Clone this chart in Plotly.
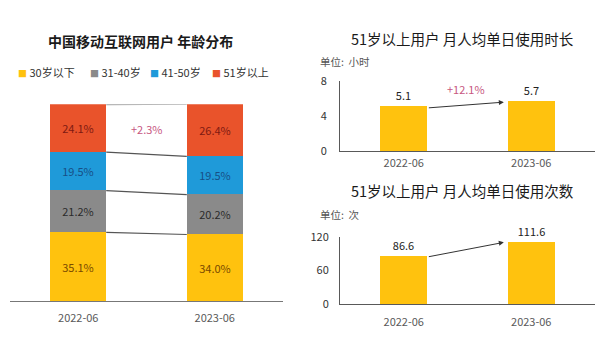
import plotly.graph_objects as go

# Age distribution of China's mobile internet users (share, %)
periods = ["2022-06", "2023-06"]
age_groups = ["30岁以下", "31-40岁", "41-50岁", "51岁以上"]
age_share = {
    "30岁以下": [35.1, 34.0],
    "31-40岁": [21.2, 20.2],
    "41-50岁": [19.5, 19.5],
    "51岁以上": [24.1, 26.4],
}
age_change_label = "+2.3%"

# 51+ users: monthly average daily usage time (hours)
hours = [5.1, 5.7]
hours_change_label = "+12.1%"
hours_ticks = [0, 4, 8]

# 51+ users: monthly average daily usage count (times)
counts = [86.6, 111.6]
counts_change_label = "+28.9%"
counts_ticks = [0, 60, 120]

FONT = "Noto Sans CJK SC"
bar_colors = {"30岁以下": "#FFC20E", "31-40岁": "#8A8A8A", "41-50岁": "#1F9AD9", "51岁以上": "#E9532B"}
text_colors = {"30岁以下": "#7A4A00", "31-40岁": "#2B2B2B", "41-50岁": "#174F86", "51岁以上": "#7E1A12"}
AXIS = "#595959"

fig = go.Figure()

# ---- left: stacked share bars ----
xs = [0, 1]
bw = 0.41
for g in age_groups:
    fig.add_trace(go.Bar(
        x=xs, y=age_share[g], name=g, width=bw,
        marker=dict(color=bar_colors[g], line=dict(width=0)),
        text=[f"{v:.1f}%" for v in age_share[g]], textposition="inside",
        insidetextanchor="middle",
        textfont=dict(family=FONT, size=11, color=text_colors[g]),
        xaxis="x", yaxis="y", showlegend=False,
    ))

# connector lines between segment boundaries
cum = [0.0, 0.0]
for i, g in enumerate(age_groups):
    cum = [cum[0] + age_share[g][0], cum[1] + age_share[g][1]]
    color = "#A0A0A0" if i == len(age_groups) - 1 else "#555555"
    fig.add_trace(go.Scatter(
        x=[bw / 2, 1 - bw / 2], y=cum, mode="lines",
        line=dict(color=color, width=1.2), hoverinfo="skip",
        showlegend=False, xaxis="x", yaxis="y",
    ))

top_l = 100 - age_share["51岁以上"][0] / 2
top_r = 100 - age_share["51岁以上"][1] / 2
fig.add_annotation(x=0.5, y=(top_l + top_r) / 2, xref="x", yref="y",
                   text=age_change_label, showarrow=False,
                   font=dict(family=FONT, size=11, color="#C7577F"))

# ---- right: single bar panels ----
rbw = 0.37
def add_panel(vals, xa, ya):
    fig.add_trace(go.Bar(
        x=xs, y=vals, width=rbw,
        marker=dict(color="#FFC20E", line=dict(width=0)),
        text=[f"{v:g}" for v in vals], textposition="outside",
        textfont=dict(family=FONT, size=11, color="#222222"),
        cliponaxis=False, showlegend=False, xaxis=xa, yaxis=ya,
    ))

add_panel(hours, "x2", "y2")
add_panel(counts, "x3", "y3")

# growth arrows
fig.add_annotation(x=1 - rbw / 2 - 0.03, y=hours[1] * 0.985, ax=rbw / 2, ay=hours[0] * 0.97,
                   xref="x2", yref="y2", axref="x2", ayref="y2",
                   showarrow=True, arrowhead=2, arrowsize=1, arrowwidth=1, arrowcolor="#333333", text="")
fig.add_annotation(x=0.49, y=7.1, xref="x2", yref="y2", text=hours_change_label, showarrow=False,
                   font=dict(family=FONT, size=11, color="#C7577F"))
fig.add_annotation(x=1 - rbw / 2 - 0.03, y=counts[1] * 0.985, ax=rbw / 2, ay=counts[0] * 0.97,
                   xref="x3", yref="y3", axref="x3", ayref="y3",
                   showarrow=True, arrowhead=2, arrowsize=1, arrowwidth=1, arrowcolor="#333333", text="")
fig.add_annotation(x=0.49, y=127, xref="x3", yref="y3", text=counts_change_label, showarrow=False,
                   font=dict(family=FONT, size=11, color="#C7577F"))

# titles, unit labels and legend
def txt(x, y, s, size, color="#1A1A1A", anchor="center"):
    fig.add_annotation(x=x / 600, y=1 - y / 338, xref="paper", yref="paper", text=s,
                       showarrow=False, xanchor=anchor, yanchor="middle",
                       font=dict(family=FONT, size=size, color=color))

txt(140, 34, "<b>中国移动互联网用户 年龄分布</b>", 14)
txt(463, 31, "51岁以上用户 月人均单日使用时长", 14.5)
txt(463, 191, "51岁以上用户 月人均单日使用次数", 14.5)
txt(318, 55, "单位:  小时", 10.5, "#555555", "left")
txt(318, 216, "单位:  次", 10.5, "#555555", "left")

legend_x = [16, 88, 148, 210]
for g, lx in zip(age_groups, legend_x):
    txt(lx, 66, f"<span style='color:{bar_colors[g]};font-size:9px'>■</span> {g}", 11, "#333333", "left")

# site watermark
txt(598, 332, "@欢视资讯", 9, "rgba(255,255,255,0.85)", "right")

ax_common = dict(showgrid=False, zeroline=False, fixedrange=True)
xfont = dict(family=FONT, size=11, color=AXIS)
fig.update_layout(
    width=600, height=338, margin=dict(l=0, r=0, t=0, b=0),
    paper_bgcolor="white", plot_bgcolor="rgba(0,0,0,0)",
    barmode="stack", bargap=0, showlegend=False,
    font=dict(family=FONT, color=AXIS),
    xaxis=dict(domain=[10 / 600, 283 / 600], range=[-0.5, 1.5], tickvals=xs, ticktext=periods,
               showline=True, linecolor="#777777", linewidth=1, ticks="", ticklabelstandoff=6,
               tickfont=xfont, anchor="y", **ax_common),
    yaxis=dict(domain=[1 - 307 / 338, 1 - 100 / 338], range=[0, 100.1], visible=False,
               anchor="x", **ax_common),
    xaxis2=dict(domain=[340 / 600, 595 / 600], range=[-0.5, 1.5], tickvals=xs, ticktext=periods,
                showline=True, linecolor=AXIS, linewidth=1, ticks="", ticklabelstandoff=2,
                tickfont=xfont, anchor="y2", **ax_common),
    yaxis2=dict(domain=[1 - 149 / 338, 1 - 76 / 338], range=[0, 8], tickvals=hours_ticks,
                showline=True, linecolor=AXIS, linewidth=1, ticks="", ticklabelstandoff=10,
                tickfont=dict(family=FONT, size=11, color="#333333"), anchor="x2", **ax_common),
    xaxis3=dict(domain=[340 / 600, 595 / 600], range=[-0.5, 1.5], tickvals=xs, ticktext=periods,
                showline=True, linecolor=AXIS, linewidth=1, ticks="", ticklabelstandoff=7,
                tickfont=xfont, anchor="y3", **ax_common),
    yaxis3=dict(domain=[1 - 310 / 338, 1 - 239 / 338], range=[0, 120], tickvals=counts_ticks,
                showline=True, linecolor=AXIS, linewidth=1, ticks="", ticklabelstandoff=8,
                tickfont=dict(family=FONT, size=11, color="#333333"), anchor="x3", **ax_common),
)

fig.write_html("out.html")
